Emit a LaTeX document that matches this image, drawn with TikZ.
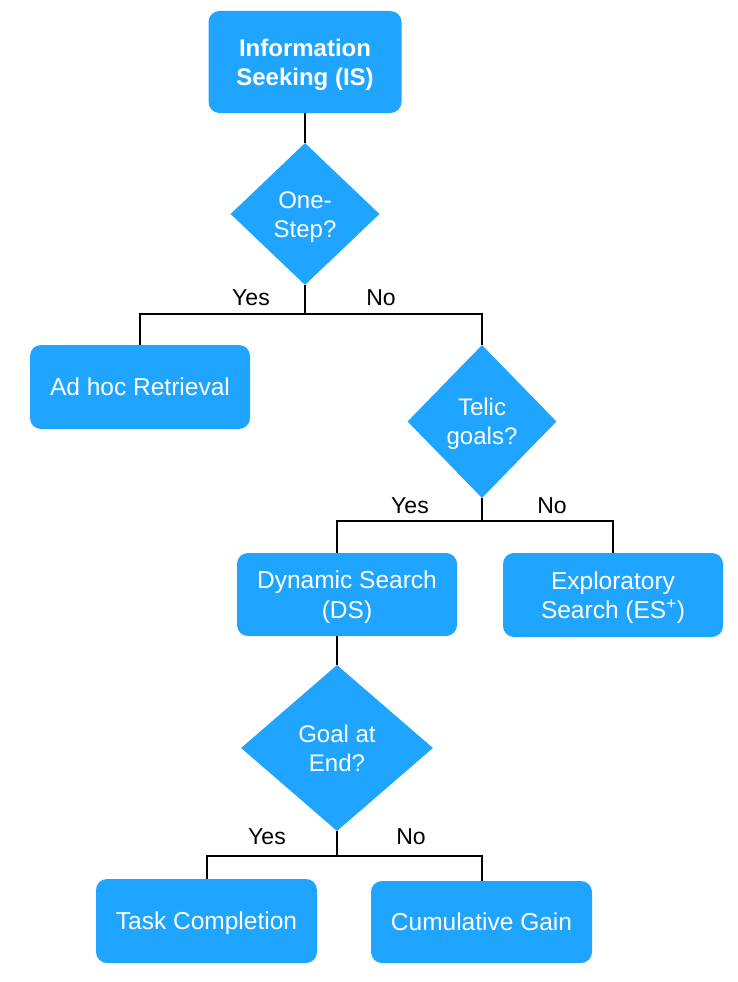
\documentclass[tikz,border=0pt]{standalone}
\usepackage{fontspec}
\setmainfont{Liberation Sans}
\usetikzlibrary{shapes.geometric,calc}
\definecolor{fcblue}{RGB}{31,165,255}
\newcommand\lowtxt[1]{\raisebox{-3pt}[\height][\depth]{\begin{tabular}{@{}c@{}}#1\end{tabular}}}
\begin{document}
\begin{tikzpicture}[x=1pt,y=-1pt,
  boxnode/.style={rectangle,rounded corners=11pt,fill=fcblue,text=white,align=center,
    inner sep=0pt,font=\fontsize{24.5}{29.5}\selectfont},
  decnode/.style={diamond,fill=fcblue,text=white,align=center,inner sep=0pt,
    font=\fontsize{24}{29}\selectfont},
  lbl/.style={font=\fontsize{23}{27}\selectfont,text=black,inner sep=0pt},
  conn/.style={draw=black,line width=2pt}]
\useasboundingbox (0,0) rectangle (738,982);
% nodes
\node[boxnode,minimum width=193pt,minimum height=102pt,font=\bfseries\fontsize{24}{30}\selectfont] (IS) at (305,62) {\lowtxt{Information\\Seeking (IS)}};
\node[decnode,minimum width=149pt,minimum height=142pt] (D1) at (305,214) {\lowtxt{One-\\Step?}};
\node[boxnode,minimum width=220pt,minimum height=84pt] (AD) at (140,387) {\lowtxt{Ad hoc Retrieval}};
\node[decnode,minimum width=149pt,minimum height=153pt] (D2) at (482,421.5) {\lowtxt{Telic\\goals?}};
\node[boxnode,minimum width=220pt,minimum height=83pt] (DS) at (347,594.5) {\lowtxt{Dynamic Search\\(DS)}};
\node[boxnode,minimum width=220pt,minimum height=84pt] (ES) at (613,595) {\lowtxt{Exploratory\\Search (ES\textsuperscript{+})}};
\node[decnode,minimum width=192pt,minimum height=166pt] (D3) at (337,748) {\lowtxt{Goal at\\End?}};
\node[boxnode,minimum width=221pt,minimum height=84pt] (TC) at (206.5,921) {\lowtxt{Task Completion}};
\node[boxnode,minimum width=221pt,minimum height=82pt] (CG) at (481.5,922) {\lowtxt{Cumulative Gain}};
% labels
\node[lbl] (y1) at (251,298) {Yes};
\node[lbl] (n1) at (381,298) {No};
\node[lbl] (y2) at (410,506) {Yes};
\node[lbl] (n2) at (552,506) {No};
\node[lbl] (y3) at (267,837) {Yes};
\node[lbl] (n3) at (411,837) {No};
% connectors
\draw[conn] (IS.south) -- (D1.north);
\draw[conn] (D1.south) -- ++(0,29) coordinate (j1);
\draw[conn] (AD.north) |- (j1) -| (D2.north);
\draw[conn] (D2.south) -- ++(0,23) coordinate (j2);
\draw[conn] (DS.north -| D3.north) |- (j2) -| (ES.north);
\draw[conn] (DS.south -| D3.north) -- (D3.north);
\draw[conn] (D3.south) -- ++(0,25) coordinate (j3);
\draw[conn] (TC.north) |- (j3) -| (CG.north);
\end{tikzpicture}
\end{document}
